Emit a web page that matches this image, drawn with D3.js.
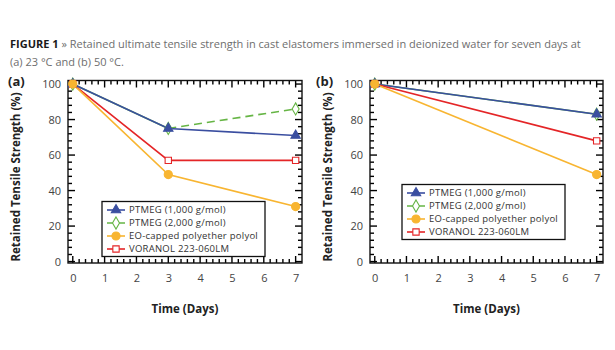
<!DOCTYPE html>
<html>
<head>
<meta charset="utf-8">
<script src="https://cdn.jsdelivr.net/npm/d3@7"></script>
<style>
  body { margin: 0; background: #fff; }
  svg { font-family: "Open Sans", sans-serif; }
  .tick text { fill: #444; font-size: 11px; font-family: "Open Sans", sans-serif; }
</style>
</head>
<body>
<div id="chart"></div>
<script>
// data
const seriesNames = ['PTMEG (1,000 g/mol)', 'PTMEG (2,000 g/mol)', 'EO-capped polyether polyol', 'VORANOL 223-060LM']
const daysA = [0, 3, 7]
const ptmeg1000A = [100, 75, 71]
const ptmeg2000A = [100, 75, 86]
const eoCappedA = [100, 49, 31]
const voranolA = [100, 57, 57]

const daysB = [0, 7]
const ptmeg1000B = [100, 83]
const ptmeg2000B = [100, 83]
const eoCappedB = [100, 49]
const voranolB = [100, 68]

const xTicks = [0, 1, 2, 3, 4, 5, 6, 7]
const yTicks = [0, 20, 40, 60, 80, 100]

// styles per series (index matches seriesNames)
const styles = [
    { color: '#3a4ea0', symbol: d3.symbolTriangle, size: 38, fill: true },
    { color: '#66b545', symbol: d3.symbolDiamond, size: 42, fill: false },
    { color: '#f8b531', symbol: d3.symbolCircle, size: 52, fill: true },
    { color: '#e42527', symbol: d3.symbolSquare, size: 40, fill: false }
]
// draw order so the yellow circle sits on top at day 0
const drawOrder = [1, 0, 3, 2]

const W = 615, H = 350
const svg = d3.select('#chart').append('svg')
    .attr('width', W).attr('height', H)

// caption
const cap = svg.append('text').attr('x', 10).attr('y', 48).style('font-size', '11px')
cap.append('tspan').text('FIGURE 1').style('font-weight', 'bold').attr('fill', '#1a1a1a')
cap.append('tspan').text(' \u00bb Retained ultimate tensile strength in cast elastomers immersed in deionized water for seven days at')
    .attr('fill', '#6e6e6e')
svg.append('text').attr('x', 10).attr('y', 66).style('font-size', '11px').attr('fill', '#6e6e6e')
    .text('(a) 23 \u00b0C and (b) 50 \u00b0C.')

const panels = [
    {
        label: '(a)', labelX: 8, box: [68, 302], titleX: 16,
        days: daysA, values: [ptmeg1000A, ptmeg2000A, eoCappedA, voranolA],
        dashFrom: [null, 1, null, null],
        legend: [102, 201.5]
    },
    {
        label: '(b)', labelX: 316, box: [370, 603], titleX: 328,
        days: daysB, values: [ptmeg1000B, ptmeg2000B, eoCappedB, voranolB],
        dashFrom: [null, null, null, null],
        legend: [402, 184.5]
    }
]

const plotTop = 80.5, plotBottom = 263

panels.forEach(p => {
    const [left, right] = p.box
    const x = d3.scaleLinear().domain([-0.15, 7.2]).range([left, right])
    const y = d3.scaleLinear().domain([-0.8, 102]).range([plotBottom, plotTop])
    const g = svg.append('g')

    const xMinor = d3.range(0, 7.001, 0.2).filter(v => Math.abs(v - Math.round(v)) > 0.01)
    const yMinor = d3.range(0, 100.01, 4).filter(v => v % 20 !== 0)

    // tick labels from d3 axes
    g.append('g').attr('transform', `translate(0,${plotBottom})`)
        .call(d3.axisBottom(x).tickValues(xTicks).tickSize(0).tickPadding(11))
        .call(a => a.select('.domain').remove())
    g.append('g').attr('transform', `translate(${left},0)`)
        .call(d3.axisLeft(y).tickValues(yTicks).tickSize(0).tickPadding(7))
        .call(a => a.select('.domain').remove())

    // inward ticks on all four sides
    const tg = g.append('g').attr('stroke', '#000').attr('stroke-width', 1.4)
    const xt = xTicks.map(v => [v, 7]).concat(xMinor.map(v => [v, 4]))
    const yt = yTicks.map(v => [v, 7]).concat(yMinor.map(v => [v, 4]))
    ;[[plotBottom, -1], [plotTop, 1]].forEach(([yy, dir]) => {
        tg.selectAll(null).data(xt).enter().append('line')
            .attr('x1', d => x(d[0])).attr('x2', d => x(d[0]))
            .attr('y1', yy).attr('y2', d => yy + dir * d[1])
    })
    ;[[left, 1], [right, -1]].forEach(([xx, dir]) => {
        tg.selectAll(null).data(yt).enter().append('line')
            .attr('y1', d => y(d[0])).attr('y2', d => y(d[0]))
            .attr('x1', xx).attr('x2', d => xx + dir * d[1])
    })

    g.append('rect')
        .attr('x', left).attr('y', plotTop)
        .attr('width', right - left).attr('height', plotBottom - plotTop)
        .attr('fill', 'none').attr('stroke', '#111').attr('stroke-width', 1.4)

    // lines
    const line = d3.line().x(d => x(d[0])).y(d => y(d[1]))
    drawOrder.forEach(i => {
        const pts = p.days.map((d, j) => [d, p.values[i][j]])
        const st = styles[i]
        const df = p.dashFrom[i]
        if (df == null) {
            g.append('path').attr('d', line(pts))
                .attr('fill', 'none').attr('stroke', st.color).attr('stroke-width', 1.6)
        } else {
            g.append('path').attr('d', line(pts.slice(0, df + 1)))
                .attr('fill', 'none').attr('stroke', st.color).attr('stroke-width', 1.6)
            g.append('path').attr('d', line(pts.slice(df)))
                .attr('fill', 'none').attr('stroke', st.color).attr('stroke-width', 1.6)
                .attr('stroke-dasharray', '8,5')
        }
    })
    drawOrder.forEach(i => {
        const st = styles[i]
        const pts = p.days.map((d, j) => [d, p.values[i][j]])
        g.selectAll(null).data(pts).enter().append('path')
            .attr('d', d3.symbol().type(st.symbol).size(st.size))
            .attr('transform', d => `translate(${x(d[0])},${y(d[1])})`)
            .attr('fill', st.fill ? st.color : '#fff')
            .attr('stroke', st.color).attr('stroke-width', 1.1)
    })

    // legend
    const [lx, ly] = p.legend
    const lg = g.append('g').attr('transform', `translate(${lx},${ly})`)
    lg.append('rect').attr('width', 163).attr('height', 55)
        .attr('fill', '#fff').attr('stroke', '#111').attr('stroke-width', 1.3)
    seriesNames.forEach((name, i) => {
        const st = styles[i]
        const ry = 8.5 + i * 13
        lg.append('line').attr('x1', 5).attr('x2', 23).attr('y1', ry).attr('y2', ry)
            .attr('stroke', st.color).attr('stroke-width', 1.6)
            .attr('stroke-dasharray', i === 1 ? '6,6' : null)
        lg.append('path').attr('d', d3.symbol().type(st.symbol).size(st.size))
            .attr('transform', `translate(14,${ry})`)
            .attr('fill', st.fill ? st.color : '#fff')
            .attr('stroke', st.color).attr('stroke-width', 1.1)
        lg.append('text').attr('x', 27).attr('y', ry).attr('dy', '0.35em')
            .style('font-size', '9.5px').style('letter-spacing', '0.25px')
            .attr('fill', '#333').text(name)
    })

    // labels
    svg.append('text').attr('x', p.labelX).attr('y', 86)
        .style('font-size', '13px').style('font-weight', 'bold').attr('fill', '#222').text(p.label)
    svg.append('text')
        .attr('transform', `translate(${p.titleX + 4},177) rotate(-90)`)
        .attr('text-anchor', 'middle')
        .style('font-size', '11.5px').style('font-weight', 'bold').attr('fill', '#222')
        .text('Retained Tensile Strength (%)')
    svg.append('text')
        .attr('x', (left + right) / 2).attr('y', 313)
        .attr('text-anchor', 'middle')
        .style('font-size', '11.5px').style('font-weight', 'bold').attr('fill', '#222')
        .text('Time (Days)')
})
</script>
</body>
</html>
